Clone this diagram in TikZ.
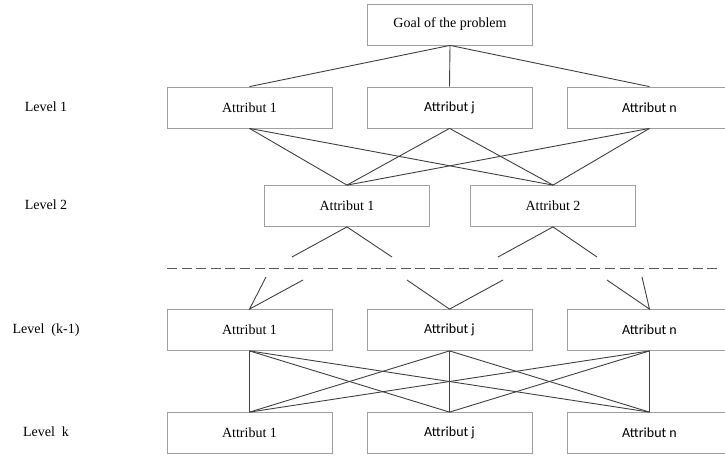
\documentclass[tikz,border=0pt]{standalone}
\usepackage{fontspec}
\setmainfont{Liberation Serif}
\newfontfamily\calib{Carlito}

\begin{document}
\begin{tikzpicture}[x=1pt,y=-1pt,
  box/.style={draw=gray!75, line width=0.8pt, minimum width=165pt, minimum height=41pt,
              inner sep=0pt, font=\fontsize{14}{16}\selectfont, text=black},
  sbox/.style={box, font=\calib\fontsize{14}{16}\selectfont},
  lvl/.style={font=\fontsize{14}{16}\selectfont, text=black},
  link/.style={draw=black!75, line width=0.9pt},
  sep/.style={draw=black!65, line width=1pt, dash pattern=on 10pt off 4.6pt}]
\useasboundingbox (0,0) rectangle (725,459);
\clip (0,0) rectangle (725,459);

% level labels
\node[lvl] (lab1) at (46,107) {Level 1};
\node[lvl] (lab2) at (46,205) {Level 2};
\node[lvl] (labk1) at (46,330) {Level\ \ (k-1)};
\node[lvl] (labk) at (46,432) {Level\ \ k};

% goal
\node[box] (goal) at (450,24.5) {Goal of the problem};

% level 1
\node[box]  (a1) at (249.5,107.5) {Attribut 1};
\node[sbox] (aj) at (449.5,107.5) {Attribut j};
\node[sbox] (an) at (649.5,107.5) {Attribut n};

% level 2
\node[box] (b1) at (347,206) {Attribut 1};
\node[box] (b2) at (553,206) {Attribut 2};

% level k-1
\node[box]  (c1) at (249.5,330) {Attribut 1};
\node[sbox] (cj) at (449.5,330) {Attribut j};
\node[sbox] (cn) at (649.5,330) {Attribut n};

% level k
\node[box]  (d1) at (249.5,433) {Attribut 1};
\node[sbox] (dj) at (449.5,433) {Attribut j};
\node[sbox] (dn) at (649.5,433) {Attribut n};

% goal to level 1
\foreach \t in {a1,aj,an} \draw[link] (goal.south) -- (\t.north);

% level 1 to level 2
\foreach \s in {a1,aj,an}
  \foreach \t in {b1,b2}
    \draw[link] (\s.south) -- (\t.north);

% separator of the omitted levels
\coordinate (sepL) at (167,268);
\coordinate (sepR) at (717,268);
\draw[sep] (sepL) -- (sepR);

% stubs below level 2
\coordinate (u1) at (292,257);
\coordinate (u2) at (392,257);
\coordinate (u3) at (498,257);
\coordinate (u4) at (597,257);
\draw[link] (u1) -- (b1.south) -- (u2);
\draw[link] (u3) -- (b2.south) -- (u4);

% stubs above level k-1
\coordinate (v1) at (266,277);
\coordinate (v2) at (303,280);
\coordinate (v3) at (407,280);
\coordinate (v4) at (503,280);
\coordinate (v5) at (607,280);
\coordinate (v6) at (642,277);
\draw[link] (v1) -- (c1.north) -- (v2);
\draw[link] (v3) -- (cj.north) -- (v4);
\draw[link] (v5) -- (cn.north) -- (v6);

% level k-1 to level k
\foreach \s in {c1,cj,cn}
  \foreach \t in {d1,dj,dn}
    \draw[link] (\s.south) -- (\t.north);
\end{tikzpicture}
\end{document}
